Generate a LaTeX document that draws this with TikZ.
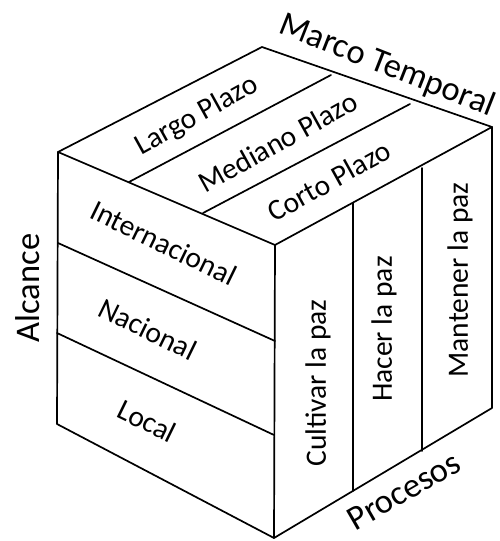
\documentclass[tikz,border=0pt]{standalone}
\usepackage{fontspec}
\setmainfont{Carlito}
\begin{document}
\begin{tikzpicture}[x=1pt,y=-1pt,
  edge/.style={line width=1.7pt,line join=round,line cap=round},
  lab/.style={font=\fontsize{29.5}{29.5}\selectfont,inner sep=0pt},
  axis/.style={font=\fontsize{34.5}{34.5}\selectfont,inner sep=0pt}]
\useasboundingbox (0,0) rectangle (499,541);
% cube corners
\coordinate (T) at (262,47);
\coordinate (L) at (58,152);
\coordinate (F) at (275,245);
\coordinate (R) at (492,127);
\coordinate (LB) at (57,424);
\coordinate (FB) at (274,538);
\coordinate (RB) at (492,408);
% outline
\draw[edge] (L) -- (T) -- (R) -- (F) -- cycle;
\draw[edge] (L) -- (LB) -- (FB) -- (RB) -- (R);
\draw[edge] (F) -- (FB);
% top dividers
\coordinate (t1a) at (129,182);
\coordinate (t1b) at (331,75);
\coordinate (t2a) at (203,213);
\coordinate (t2b) at (410,104);
\draw[edge] (t1a) -- (t1b);
\draw[edge] (t2a) -- (t2b);
% front-left dividers
\coordinate (f1a) at (58,243);
\coordinate (f1b) at (275,341);
\coordinate (f2a) at (57,333);
\coordinate (f2b) at (274,435);
\draw[edge] (f1a) -- (f1b);
\draw[edge] (f2a) -- (f2b);
% right dividers
\coordinate (r1a) at (353,203);
\coordinate (r1b) at (353,491);
\coordinate (r2a) at (422,168);
\coordinate (r2b) at (422,451);
\draw[edge] (r1a) -- (r1b);
\draw[edge] (r2a) -- (r2b);
% labels
\node[axis,rotate=-21.5] (mt) at (387,66) {Marco Temporal};
\node[axis,rotate=90] (al) at (28,288) {Alcance};
\node[axis,rotate=30] (pr) at (404,491) {Procesos};
\node[lab,rotate=29] (lp) at (197,116) {Largo Plazo};
\node[lab,rotate=29] (mp) at (278,142) {Mediano Plazo};
\node[lab,rotate=29] (cp) at (329,181) {Corto Plazo};
\node[lab,rotate=-26] (in) at (164,243) {Internacional};
\node[lab,rotate=-26] (na) at (148,329) {Nacional};
\node[lab,rotate=-26] (lo) at (147,421) {Local};
\node[lab,rotate=90] (cu) at (318,383) {Cultivar la paz};
\node[lab,rotate=90] (ha) at (384,329) {Hacer la paz};
\node[lab,rotate=90] (ma) at (460,280) {Mantener la paz};
\end{tikzpicture}
\end{document}
